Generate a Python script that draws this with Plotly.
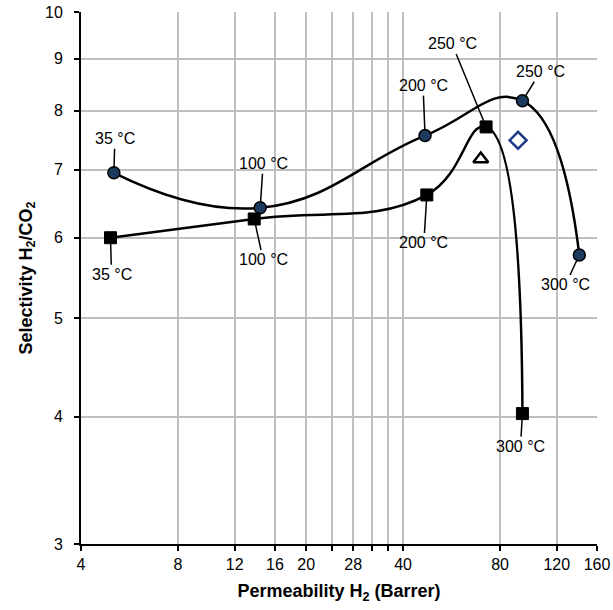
import numpy as np
import plotly.graph_objects as go

# Data
circle_x = [5.06, 14.4, 46.8, 93.9, 141.0]
circle_y = [6.95, 6.42, 7.56, 8.18, 5.77]
circle_labels = ["35 °C", "100 °C", "200 °C", "250 °C", "300 °C"]

square_x = [4.94, 13.8, 47.4, 72.4, 93.9]
square_y = [6.00, 6.26, 6.61, 7.71, 4.03]
square_labels = ["35 °C", "100 °C", "200 °C", "250 °C", "300 °C"]

triangle_x = [69.7]
triangle_y = [7.17]

diamond_x = [91.0]
diamond_y = [7.48]

x_tickvals = [4, 8, 12, 16, 20, 28, 40, 80, 120, 160]
x_ticktext = ["4", "8", "12", "16", "20", "28", "40", "80", "120", "160"]
x_minor_tickvals = [24, 32, 36]
y_tickvals = [3, 4, 5, 6, 7, 8, 9, 10]
y_ticktext = ["3", "4", "5", "6", "7", "8", "9", "10"]

# label offsets (pixels) of text relative to the point
circle_offsets = [(1, -34), (3, -44), (-2, -50), (18, -29), (-14, 30)]
square_offsets = [(1, 37), (9, 41), (-3, 48), (-34, -83), (-2, 33)]

FONT = "Liberation Sans, Arial, sans-serif"
NAVY = "#1B3A5E"

fig = go.Figure()
fig.add_trace(go.Scatter(
    x=circle_x, y=circle_y, mode="lines+markers",
    line=dict(color="black", width=2.5, shape="spline", smoothing=1.3),
    marker=dict(symbol="circle", size=12, color=NAVY, line=dict(color="black", width=1.5)),
    showlegend=False))
fig.add_trace(go.Scatter(
    x=square_x, y=square_y, mode="lines+markers",
    line=dict(color="black", width=2.5, shape="spline", smoothing=1.3),
    marker=dict(symbol="square", size=12, color="black", line=dict(color="black", width=1)),
    showlegend=False))
fig.add_trace(go.Scatter(
    x=triangle_x, y=triangle_y, mode="markers",
    marker=dict(symbol="triangle-up-open", size=13, color="black", line=dict(color="black", width=2.5)),
    showlegend=False))
fig.add_trace(go.Scatter(
    x=diamond_x, y=diamond_y, mode="markers",
    marker=dict(symbol="diamond-open", size=13, color="#1F3C88", line=dict(color="#1F3C88", width=2.5)),
    showlegend=False))

annotations = []
for xs, ys, labs, offs in [(circle_x, circle_y, circle_labels, circle_offsets),
                           (square_x, square_y, square_labels, square_offsets)]:
    for xv, yv, lab, (ax, ay) in zip(xs, ys, labs, offs):
        annotations.append(dict(
            x=np.log10(xv), y=np.log10(yv), xref="x", yref="y",
            text=lab, showarrow=True, arrowhead=0, arrowwidth=1.5,
            arrowcolor="black", ax=ax, ay=ay, standoff=5,
            font=dict(family=FONT, size=16, color="black")))

fig.update_layout(
    width=613, height=610,
    margin=dict(l=81, r=16, t=12, b=66),
    paper_bgcolor="white", plot_bgcolor="white",
    font=dict(family=FONT, size=16, color="black"),
    annotations=annotations,
    hovermode=False,
    xaxis=dict(
        type="log", range=[np.log10(4), np.log10(160)],
        tickmode="array", tickvals=x_tickvals, ticktext=x_ticktext,
        minor=dict(tickmode="array", tickvals=x_minor_tickvals, showgrid=True,
                   gridcolor="#BFBFBF", gridwidth=1.5,
                   ticks="outside", ticklen=5, tickwidth=2, tickcolor="black"),
        showgrid=True, gridcolor="#BFBFBF", gridwidth=1.5,
        showline=True, linecolor="black", linewidth=2,
        ticks="outside", ticklen=5, tickwidth=2, tickcolor="black",
        zeroline=False, automargin=False,
        tickfont=dict(family=FONT, size=16, color="black"),
        title=dict(text="<b>Permeability H<sub>2</sub> (Barrer)</b>",
                   font=dict(family=FONT, size=18, color="black"), standoff=12),
    ),
    yaxis=dict(
        type="log", range=[np.log10(3), np.log10(10)],
        tickmode="array", tickvals=y_tickvals, ticktext=y_ticktext,
        showgrid=True, gridcolor="#BFBFBF", gridwidth=1.5,
        showline=True, linecolor="black", linewidth=2,
        ticks="outside", ticklen=5, tickwidth=2, tickcolor="black",
        zeroline=False, automargin=False, ticklabelstandoff=8,
        tickfont=dict(family=FONT, size=16, color="black"),
        title=dict(text="<b>Selectivity H<sub>2</sub>/CO<sub>2</sub></b>",
                   font=dict(family=FONT, size=18, color="black"), standoff=8),
    ),
)

# remove the default page margin so the figure sits at the window origin
fig.write_html("out.html",
               config={"displayModeBar": False},
               post_script="document.body.style.margin='0px';document.body.style.overflow='hidden';")
